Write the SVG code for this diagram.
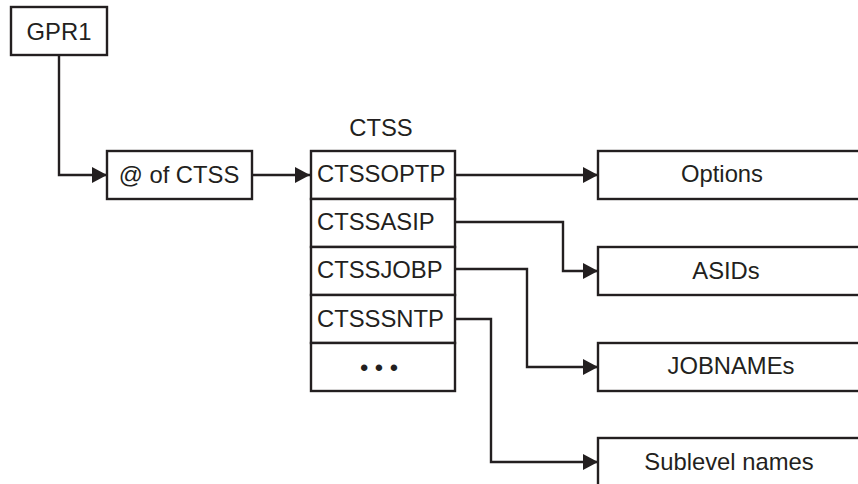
<svg xmlns="http://www.w3.org/2000/svg" width="858" height="484" viewBox="0 0 858 484">
<defs>
<style>
.box{fill:#fff;stroke:#231f20;stroke-width:2.4}
.t{font-family:"Liberation Sans",Arial,sans-serif;font-size:23.8px;fill:#231f20}
.c{text-anchor:middle}
.ln{fill:none;stroke:#231f20;stroke-width:2.4}
</style>
<marker id="ah" markerWidth="15" markerHeight="16" refX="15" refY="8" orient="auto" markerUnits="userSpaceOnUse">
<path d="M0,0 L15,8 L0,16 Z" fill="#231f20"/>
</marker>
</defs>
<rect width="858" height="484" fill="#fff"/>
<g id="connectors">
<path class="ln" d="M59,55 V175 H107" marker-end="url(#ah)"/>
<path class="ln" d="M252,175 H310" marker-end="url(#ah)"/>
<path class="ln" d="M455,175 H598" marker-end="url(#ah)"/>
<path class="ln" d="M455,222 H563 V271 H598" marker-end="url(#ah)"/>
<path class="ln" d="M455,269 H527 V367 H598" marker-end="url(#ah)"/>
<path class="ln" d="M455,319 H491 V462 H598" marker-end="url(#ah)"/>
</g>
<g id="gpr1">
<rect class="box" x="11" y="7" width="96" height="48"/>
<text class="t c" x="59" y="40">GPR1</text>
</g>
<g id="atctss">
<rect class="box" x="107" y="151" width="145" height="48"/>
<text class="t c" x="179" y="183">@ of CTSS</text>
</g>
<g id="ctss">
<text class="t c" x="381" y="136">CTSS</text>
<rect class="box" x="311" y="151" width="144" height="48"/>
<text class="t" x="317" y="182">CTSSOPTP</text>
<rect class="box" x="311" y="199" width="144" height="48"/>
<text class="t" x="317" y="230">CTSSASIP</text>
<rect class="box" x="311" y="247" width="144" height="48"/>
<text class="t" x="317" y="278">CTSSJOBP</text>
<rect class="box" x="311" y="295" width="144" height="48"/>
<text class="t" x="317" y="327">CTSSSNTP</text>
<rect class="box" x="311" y="343" width="144" height="48"/>
<text class="t c" x="379" y="376">• • •</text>
</g>
<g id="options">
<rect class="box" x="598" y="151" width="270" height="48"/>
<text class="t c" x="722" y="182">Options</text>
</g>
<g id="asids">
<rect class="box" x="598" y="247" width="270" height="48"/>
<text class="t c" x="726" y="279">ASIDs</text>
</g>
<g id="jobnames">
<rect class="box" x="598" y="343" width="270" height="48"/>
<text class="t c" x="731" y="374">JOBNAMEs</text>
</g>
<g id="sublevel">
<rect class="box" x="598" y="438" width="270" height="60"/>
<text class="t c" x="729" y="470">Sublevel names</text>
</g>
</svg>
